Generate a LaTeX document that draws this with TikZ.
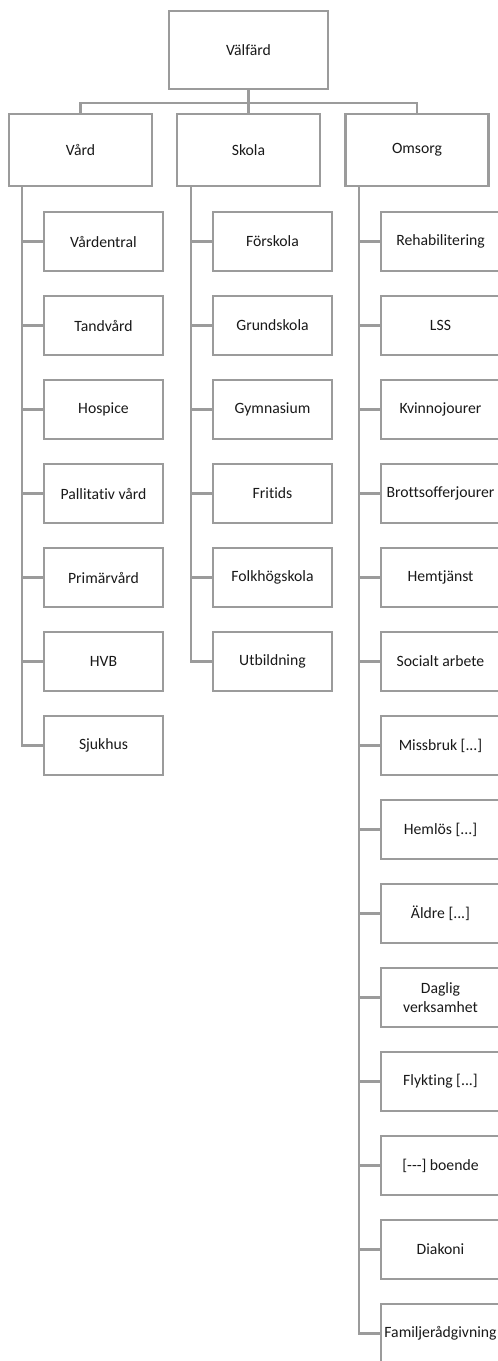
\documentclass[tikz,border=0pt]{standalone}
\usepackage{fontspec}
\setmainfont{Carlito}[Ligatures={TeX,NoCommon}]
\definecolor{linegray}{RGB}{155,155,155}
\definecolor{textdark}{RGB}{25,25,25}
\newcommand{\more}{[...]}
\newcommand{\dashes}{[-{}-{}-]}
\tikzset{
  box/.style={draw=linegray, line width=2.2pt, fill=white, text=textdark,
    font=\fontsize{15.7}{19}\selectfont, align=center, inner sep=0pt},
  rootbox/.style={box, minimum width=159pt, minimum height=78pt},
  areabox/.style={box, minimum width=143pt, minimum height=72pt},
  leafbox/.style={box, minimum width=119pt, minimum height=59pt},
  link/.style={draw=linegray, line width=2.2pt}
}
\begin{document}
\begin{tikzpicture}[x=1pt, y=-1pt]
\clip (0,0) rectangle (498,1361);
\node[rootbox] (welfare) at (248.5,50) {Välfärd};
% three areas under the root, joined by one bus line
\foreach \n/\x/\txt in {vard/80.5/Vård, skola/248.5/Skola, omsorg/417/Omsorg}{
  \draw[link] (welfare.south) -- ++(0,13) -| (\x,114);
  \node[areabox] (\n) at (\x,150) {\txt};
}
% leaves hang from a trunk on the left side of each area box
\foreach \i/\txt in {0/Vårdentral, 1/Tandvård, 2/Hospice, 3/Pallitativ vård,
  4/Primärvård, 5/HVB, 6/Sjukhus}{
  \node[leafbox] (vard-\i) at (103.5,241.5+84*\i) {\txt};
  \draw[link] (vard.south west) ++(14,0) |- (vard-\i.west);
}
\foreach \i/\txt in {0/Förskola, 1/Grundskola, 2/Gymnasium, 3/Fritids,
  4/Folkhögskola, 5/Utbildning}{
  \node[leafbox] (skola-\i) at (272.5,241.5+84*\i) {\txt};
  \draw[link] (skola.south west) ++(15,0) |- (skola-\i.west);
}
\foreach \i/\txt in {0/Rehabilitering, 1/LSS, 2/Kvinnojourer, 3/Brottsofferjourer,
  4/Hemtjänst, 5/Socialt arbete, 6/Missbruk \more, 7/Hemlös \more, 8/Äldre \more,
  9/{Daglig\\verksamhet}, 10/Flykting \more, 11/\dashes\ boende, 12/Diakoni,
  13/Familjerådgivning}{
  \node[leafbox] (omsorg-\i) at (440.5,241.5+84*\i) {\txt};
  \draw[link] (omsorg.south west) ++(14.5,0) |- (omsorg-\i.west);
}
\end{tikzpicture}
\end{document}
